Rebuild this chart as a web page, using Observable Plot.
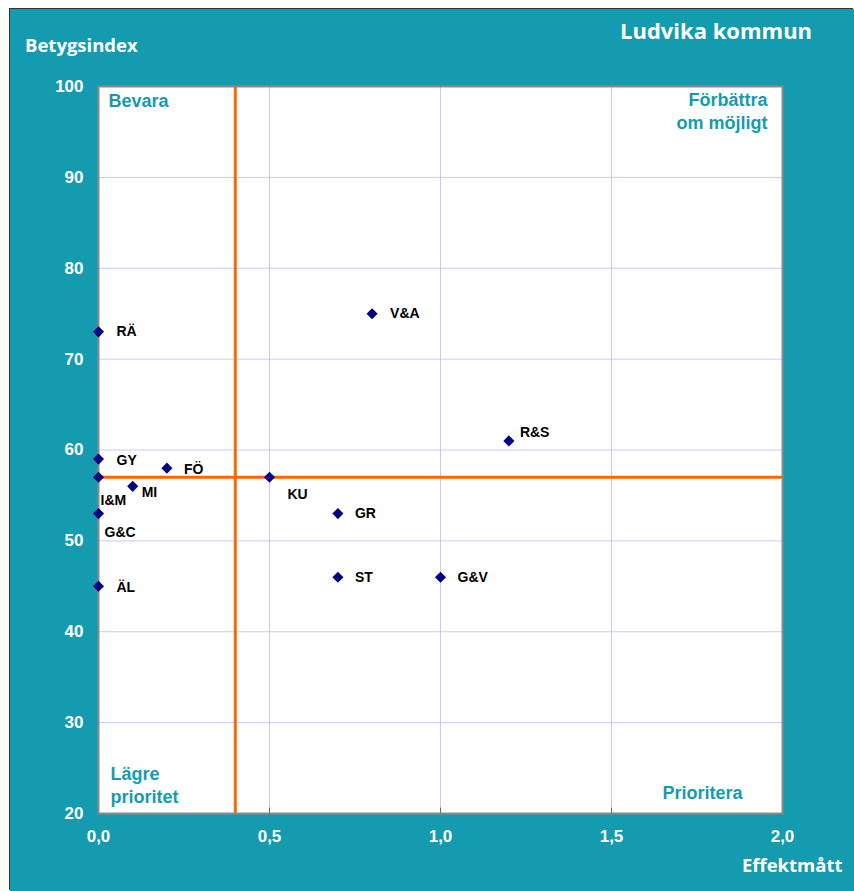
<!DOCTYPE html>
<html><head><meta charset="utf-8">
<script src="https://cdn.jsdelivr.net/npm/d3@7"></script>
<script src="https://cdn.jsdelivr.net/npm/@observablehq/plot@0.6"></script>
<style>
body{margin:0;background:#fff;}
#wrap{position:relative;width:854px;height:891px;overflow:hidden;}
#bg{position:absolute;left:10px;top:9px;width:844px;height:882px;background:#159bb0;box-shadow:-1px -1px 0 #333;}
#chart{position:absolute;left:0;top:0;}
.t{position:absolute;color:#fff;font-family:"Open Sans",sans-serif;font-weight:700;white-space:nowrap;line-height:1;}
</style></head>
<body>
<div id="wrap">
  <div id="bg"></div>
  <div id="chart"></div>
  <div class="t" style="left:620px;top:19px;font-size:22px;">Ludvika kommun</div>
  <div class="t" style="left:25px;top:36px;font-size:18.5px;">Betygsindex</div>
  <div class="t" style="left:742px;top:856px;font-size:18.5px;">Effektmått</div>
</div>
<script>
const names = ["RÄ","V&A","R&S","GY","FÖ","I&M","KU","MI","G&C","GR","ST","G&V","ÄL"];
const effekt = [0, 0.8, 1.2, 0, 0.2, 0, 0.5, 0.1, 0, 0.7, 0.7, 1.0, 0];
const betyg  = [73, 75, 61, 59, 58, 57, 57, 56, 53, 53, 46, 46, 45];
const xTicks = [0, 0.5, 1.0, 1.5, 2.0];
const yTicks = [20, 30, 40, 50, 60, 70, 80, 90, 100];
const refX = 0.4;
const refY = 57;
const quadrants = [
  {text: "Bevara", anchor: "top-left"},
  {text: "Förbättra\nom möjligt", anchor: "top-right"},
  {text: "Lägre\nprioritet", anchor: "bottom-left"},
  {text: "Prioritera", anchor: "bottom-right"}
];

// label placement (pixel offsets from each point)
const labelOffset = {
  "RÄ": [18, 0], "V&A": [18, 0], "R&S": [11, -8], "GY": [18, 1], "FÖ": [17, 1],
  "I&M": [2, 23], "KU": [18, 17], "MI": [9, 6], "G&C": [6, 19], "GR": [17, 0],
  "ST": [17, 0], "G&V": [17, 0], "ÄL": [18, 1]
};
const quadOffset = {
  "top-left": [10, 5], "top-right": [-15, 4], "bottom-left": [12, -11], "bottom-right": [-40, -15]
};

const teal = "#159bb0";
const fmt = d => d.toFixed(1).replace(".", ",");
const idx = d3.range(names.length);
const axisFont = "Liberation Sans, Arial, sans-serif";

const marks = [
  Plot.frame({fill: "white"}),
  Plot.gridX(xTicks.slice(1, -1), {stroke: "#c8c8ff", strokeOpacity: 1}),
  Plot.gridY(yTicks.slice(1, -1), {stroke: "#c8c8ff", strokeOpacity: 1}),
  Plot.ruleX([refX], {stroke: "#ff6600", strokeWidth: 3}),
  Plot.ruleY([refY], {stroke: "#ff6600", strokeWidth: 3}),
  Plot.frame({stroke: "#8a8a8a", strokeWidth: 2}),
  Plot.ruleX(xTicks.slice(1, -1), {y1: yTicks[0], y2: yTicks[0] + 0.6, stroke: "#666", strokeWidth: 1}),
  Plot.axisX({ticks: xTicks, tickFormat: fmt, tickSize: 0, tickPadding: 16, fill: "white",
    fontSize: 17, fontWeight: "bold", fontFamily: axisFont, label: null}),
  Plot.axisY({ticks: yTicks, tickSize: 0, tickPadding: 15, fill: "white",
    fontSize: 17, fontWeight: "bold", fontFamily: axisFont, label: null}),
  Plot.dot(idx, {x: i => effekt[i], y: i => betyg[i], symbol: "diamond2", r: 5, fill: "#000080", stroke: "none"}),
  ...idx.map(i => Plot.text([i], {
    x: j => effekt[j], y: j => betyg[j], text: j => names[j],
    dx: labelOffset[names[i]][0], dy: labelOffset[names[i]][1],
    textAnchor: "start", fill: "black", fontSize: 14, fontWeight: "bold",
    fontFamily: axisFont
  })),
  ...quadrants.map(q => Plot.text([q], {
    text: "text", frameAnchor: q.anchor,
    dx: quadOffset[q.anchor][0], dy: quadOffset[q.anchor][1],
    textAnchor: q.anchor.endsWith("left") ? "start" : "end",
    lineAnchor: q.anchor.startsWith("top") ? "top" : "bottom",
    lineHeight: 1.25, fill: teal, fontSize: 18, fontWeight: "bold",
    fontFamily: axisFont
  }))
];

const chart = Plot.plot({
  width: 854, height: 891,
  marginLeft: 98, marginRight: 72, marginTop: 86, marginBottom: 78,
  x: {domain: [0, 2]},
  y: {domain: [20, 100]},
  style: {background: "transparent", overflow: "visible"},
  marks
});
document.getElementById("chart").appendChild(chart);
</script>
</body></html>
